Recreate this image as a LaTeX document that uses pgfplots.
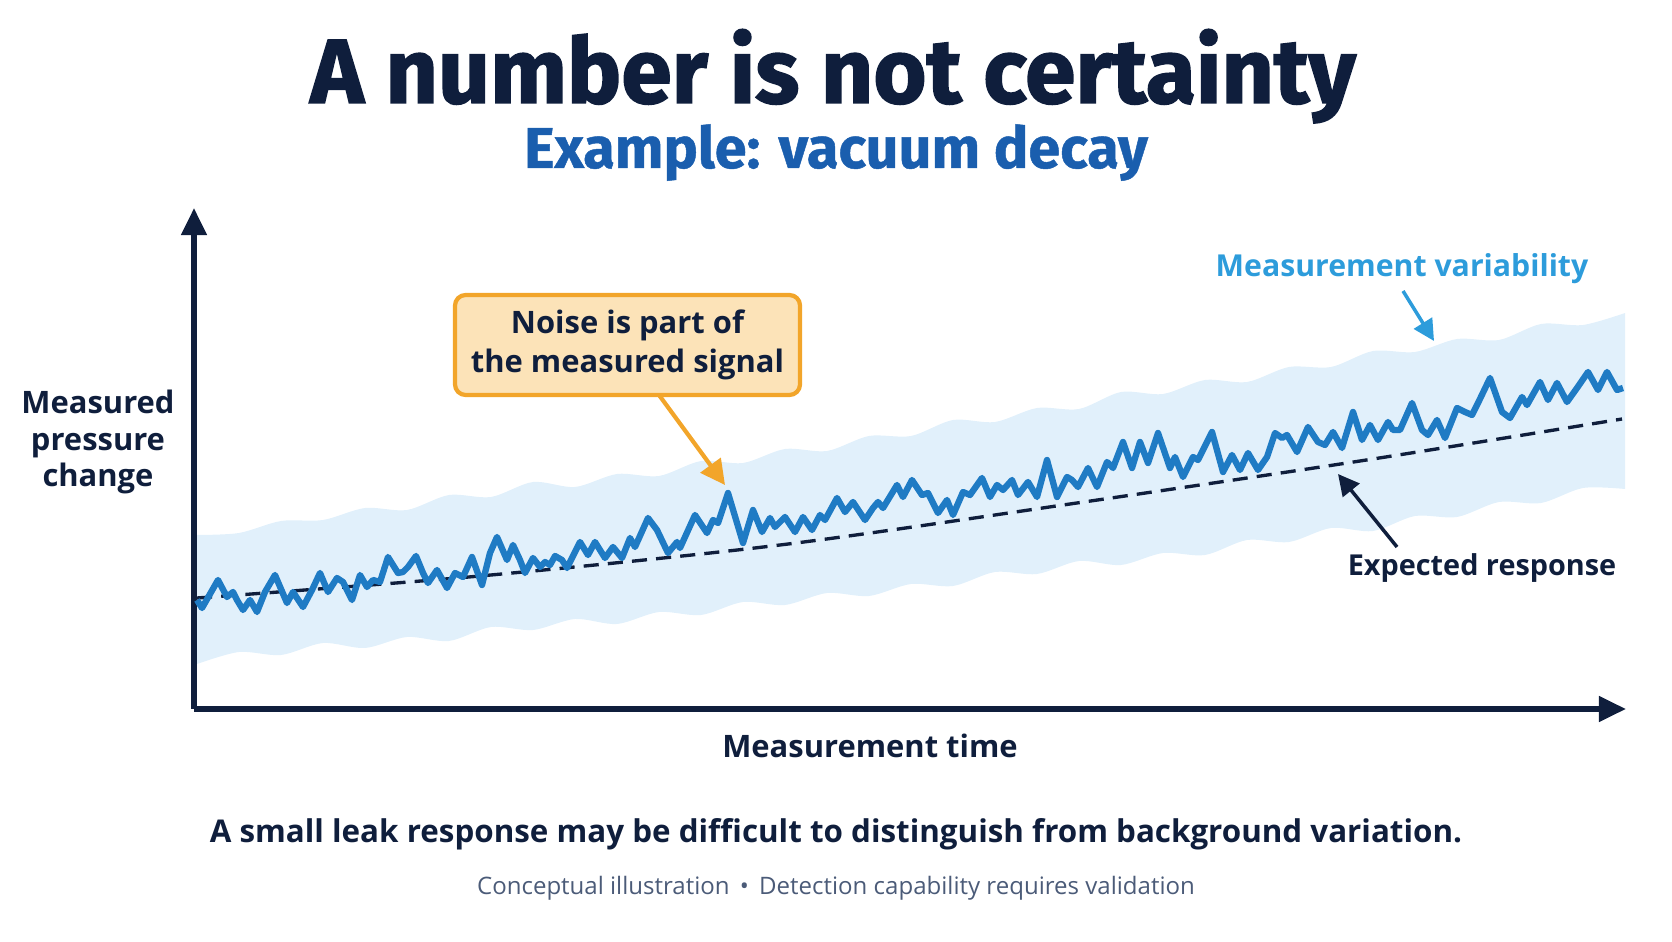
\documentclass[border=0pt]{standalone}
\usepackage{pgfplots}
\pgfplotsset{compat=1.18}
\usepgfplotslibrary{fillbetween}
\usetikzlibrary{arrows.meta}
\usepackage{fontspec}
\setmainfont{Open Sans}
\IfFontExistsTF{Fira Sans Heavy}{\newfontfamily\titlefont{Fira Sans Heavy}[FakeBold=1.2]}{\newfontfamily\titlefont{Fira Sans}[UprightFont={* Bold},FakeBold=1.6]}
\newfontfamily\subfont{Fira Sans}[BoldFeatures={FakeBold=0.8}]
\definecolor{navy}{HTML}{0F1E3C}
\definecolor{subblue}{HTML}{1A5EAE}
\definecolor{lineblue}{HTML}{1F7BC4}
\definecolor{bandcol}{HTML}{E1F0FB}
\definecolor{varblue}{HTML}{2D9CDB}
\definecolor{orangeb}{HTML}{F2A52A}
\definecolor{orangef}{HTML}{FCE3B8}
\definecolor{footc}{HTML}{4B5B78}
\begin{document}
\begin{tikzpicture}[x=1cm,y=1cm]
\path (0,0) rectangle (16.72,9.41);
\begin{axis}[
  at={(1.94cm,2.32cm)}, anchor=south west,
  scale only axis, width=14.32cm, height=5.01cm,
  xmin=0, xmax=1432, ymin=0, ymax=501,
  axis lines=left, xtick=\empty, ytick=\empty,
  axis line style={navy, line width=1.6pt, -{Triangle[length=7.7pt,width=7pt]}},
]
\addplot[draw=none, smooth, name path=U] coordinates {
(3,174)(45,176)(87,188)(129,189)(171,201)(213,199)(255,214)(297,212)(339,227)(381,222)(423,235)(465,233)(507,248)(549,246)(591,260)(633,258)(675,273)(717,273)(759,289)(801,287)(843,301)(885,300)(927,317)(969,315)(1011,329)(1053,327)(1095,342)(1137,342)(1179,358)(1221,357)(1263,370)(1305,369)(1347,385)(1389,384)(1431,396)};
\addplot[draw=none, smooth, name path=L] coordinates {
(3,45)(45,57)(87,54)(129,66)(171,61)(213,72)(255,68)(297,82)(339,79)(381,90)(423,85)(465,97)(507,94)(549,107)(591,104)(633,116)(675,113)(717,125)(759,123)(801,137)(843,135)(885,148)(927,144)(969,156)(1011,154)(1053,169)(1095,167)(1137,181)(1179,178)(1221,193)(1263,192)(1305,207)(1347,206)(1389,221)(1431,220)};
\addplot[bandcol, draw=none] fill between[of=U and L];
\addplot[navy, line width=0.95pt, dash pattern=on 4.3pt off 2.6pt, smooth] coordinates {
(3,111)(286,133)(586,164)(876,205)(1166,248)(1428,290)};
\addplot[lineblue, line width=1.8pt, line join=round] coordinates {
(3,109)(8,101)(24,129)(33,112)(39,117)(43,109)(49,99)(56,109)(63,97)(71,117)(81,134)(93,106)(99,117)(109,102)(118,119)(126,136)(134,117)(143,131)(149,127)(158,109)(166,134)(173,122)(179,129)(186,127)(194,152)(204,136)(209,137)(214,142)(222,153)(229,136)(234,126)(243,139)(253,121)(261,136)(269,132)(278,152)(288,124)(296,156)
(303,172)(313,149)(319,164)(326,149)(331,136)(339,151)(346,142)(351,147)(356,144)(361,153)(368,149)(373,141)(386,167)(394,154)(401,167)(411,151)(419,162)(428,151)(436,171)(441,162)(454,191)(463,179)(474,156)(483,167)(486,161)(501,194)(513,176)(519,189)(524,186)(534,216)(549,166)(559,199)(568,177)(576,191)(581,182)
(591,192)(601,177)(609,192)(618,179)(626,194)(631,189)(643,211)(651,197)(659,207)(671,189)(679,201)(684,207)(689,201)(703,224)(709,212)(718,229)(728,214)(734,216)(744,196)(753,209)(759,194)(769,217)(776,214)(788,231)(796,212)(803,224)(809,219)(818,229)(824,214)(834,227)(843,212)(853,249)(863,212)(873,232)
(878,229)(884,222)(894,241)(903,222)(913,247)(919,241)(929,267)(938,241)(946,267)(954,246)(964,276)(976,241)(981,252)(989,232)(999,252)(1004,249)(1018,277)(1029,237)(1038,254)(1046,239)(1054,256)(1064,239)(1073,252)(1081,276)(1088,271)(1093,274)(1103,257)(1114,282)(1124,267)(1131,264)(1139,277)(1148,261)(1159,297)
(1168,269)(1176,284)(1184,269)(1194,287)(1199,279)(1206,279)(1218,306)(1228,279)(1234,274)(1243,289)(1251,271)(1263,301)(1271,297)(1278,294)(1284,306)(1296,331)(1308,297)(1316,291)(1328,312)(1333,304)(1346,327)(1354,309)(1363,326)(1373,307)(1383,321)(1394,337)(1404,319)(1413,337)(1423,319)(1429,321)};
\end{axis}
% titles
\node[anchor=base, text=navy, inner sep=0] at (8.33,8.38) {\titlefont\fontsize{25.9}{29}\selectfont A number is not certainty};
\node[anchor=base, text=subblue, inner sep=0] at (8.36,7.73) {\subfont\bfseries\fontsize{16.4}{19}\selectfont Example: vacuum decay};
% axis labels
\node[align=center, text=navy, inner sep=0, font=\bfseries\fontsize{8.8}{10.5}\selectfont] at (0.98,4.99) {Measured\\pressure\\change};
\node[anchor=base, text=navy, inner sep=0, font=\bfseries\fontsize{8.8}{10.5}\selectfont] at (8.70,1.84) {Measurement time};
% callout
\draw[orangeb, line width=1.2pt, fill=orangef, rounded corners=3pt] (4.55,5.46) rectangle (8.00,6.46);
\node[align=center, text=navy, inner sep=0, font=\bfseries\fontsize{8.8}{11}\selectfont] at (6.275,5.96) {Noise is part of\\the measured signal};
\draw[orangeb, line width=1.2pt, -{Triangle[length=7pt,width=7pt]}] (6.59,5.46) -- (7.25,4.56);
% variability
\node[anchor=base, text=varblue, inner sep=0, font=\bfseries\fontsize{8.6}{10}\selectfont] at (14.02,6.64) {Measurement variability};
\draw[varblue, line width=1.0pt, -{Triangle[length=6pt,width=6pt]}] (14.03,6.50) -- (14.34,6.00);
% expected
\node[anchor=base, text=navy, inner sep=0, font=\bfseries\fontsize{8.2}{10}\selectfont] at (14.82,3.65) {Expected response};
\draw[navy, line width=1.0pt, -{Triangle[length=6pt,width=6pt]}] (13.97,3.94) -- (13.38,4.67);
% bottom
\node[anchor=base, text=navy, inner sep=0, font=\bfseries\fontsize{8.92}{11}\selectfont] at (8.36,0.99) {A small leak response may be difficult to distinguish from background variation.};
\node[anchor=base, text=footc, inner sep=0, font=\fontsize{6.84}{8}\selectfont] at (8.36,0.47) {Conceptual illustration \,\textbullet\, Detection capability requires validation};
\end{tikzpicture}
\end{document}
